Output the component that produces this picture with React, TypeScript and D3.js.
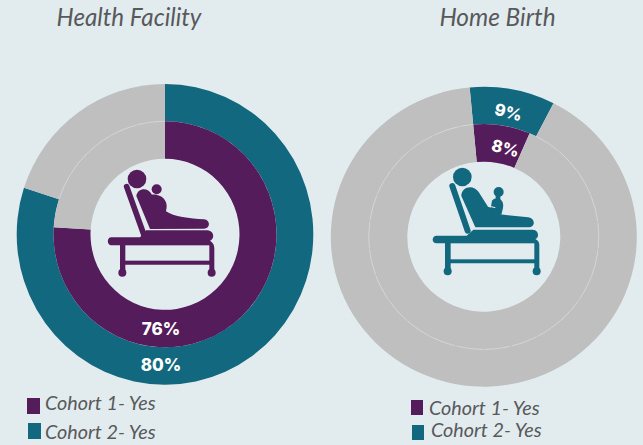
import React from "react";
import * as d3 from "d3";

// values, percent "yes" per cohort
const facilityCohort1 = [76, 24];
const facilityCohort2 = [80, 20];
const homeCohort1 = [8, 92];
const homeCohort2 = [9, 91];
const legendLabels = ["Cohort 1- Yes", "Cohort 2- Yes"];
const titles = ["Health Facility", "Home Birth"];

const BG = "#e2ecef";
const PURPLE = "#551c5b";
const TEAL = "#12687f";
const GREY = "#bfbfbf";
const TEXT = "#58595b";
const LABEL_FONT = "Inter, 'Open Sans', sans-serif";
const TITLE_FONT = "Lato, 'Open Sans', sans-serif";

type RingProps = {
  values: number[];
  color: string;
  inner: number;
  outer: number;
  start: number;
};

function Ring({ values, color, inner, outer, start }: RingProps) {
  const pie = d3
    .pie<number>()
    .sort(null)
    .startAngle(start)
    .endAngle(start + 2 * Math.PI);
  const arc = d3.arc<d3.PieArcDatum<number>>().innerRadius(inner).outerRadius(outer);
  const slices = pie(values);
  return (
    <g>
      {slices.map((s, i) => (
        <path key={i} d={arc(s) || ""} fill={i === 0 ? color : GREY} />
      ))}
    </g>
  );
}

function Seam({ r, from, to }: { r: number; from: number; to: number }) {
  const d = d3.arc()({ innerRadius: r, outerRadius: r, startAngle: from, endAngle: to }) || "";
  return <path d={d} fill="none" stroke="#d3d8d9" strokeWidth={0.45} strokeDasharray="26 2" />;
}

// icons are traced in zoomed reference coordinates, hence the 1/3 scale where they are used
function MotherFacility({ fill }: { fill: string }) {
  return (
    <g fill={fill}>
      <circle cx={141} cy={87} r={28} />
      <circle cx={200} cy={118} r={15} />
      <path d="M110 110 L163 258" stroke={fill} strokeWidth={17} strokeLinecap="round" fill="none" />
      <path d="M139 138 C142 115 172 108 186 134 C214 132 238 152 228 184 C250 200 300 206 342 208 C362 210 362 236 342 236 L180 237 Z" />
      <path d="M168 241 L352 241 C374 243 374 268 360 272 C372 280 373 288 373 296 L373 368 L358 368 L358 344 L106 344 L106 368 L90 368 L90 286 L64 286 C50 286 50 262 64 262 L150 262 Z" />
      <rect x={106} y={286} width={252} height={46} fill={BG} />
      <circle cx={97} cy={368} r={12} />
      <circle cx={365} cy={368} r={12} />
    </g>
  );
}

function MotherHome({ fill }: { fill: string }) {
  return (
    <g fill={fill}>
      <circle cx={157} cy={291} r={28} />
      <circle cx={266} cy={336} r={15} />
      <rect x={257} y={345} width={14} height={16} />
      <path d="M246 362 C262 346 284 360 279 384 L274 404 L240 396 Z" />
      <path d="M127 318 L173 452" stroke={fill} strokeWidth={18} strokeLinecap="round" fill="none" />
      <path d="M154 348 C154 320 190 312 206 336 L234 380 L258 388 L270 403 L355 412 C378 416 376 442 355 442 L196 442 Z" />
      <path d="M234 378 L256 383" stroke={BG} strokeWidth={3} fill="none" />
      <path d="M190 449 L368 449 C388 450 388 474 376 477 C386 482 388 488 388 496 L388 574 L373 574 L373 550 L122 550 L122 574 L105 574 L105 490 L80 490 C64 490 64 467 80 467 L170 467 Z" />
      <rect x={122} y={490} width={251} height={48} fill={BG} />
      <circle cx={113} cy={574} r={12} />
      <circle cx={380} cy={574} r={12} />
    </g>
  );
}

function Swatch({ x, y, w, h, fill, label, tx, ty }: any) {
  return (
    <g>
      <rect x={x} y={y} width={w} height={h} fill={fill} />
      <text x={tx} y={ty} fontFamily={TITLE_FONT} fontStyle="italic" fontSize={19.8} fill={TEXT}>
        {label}
      </text>
    </g>
  );
}

export default function App() {
  const homeStart = (-5.3 * Math.PI) / 180;
  const homeEnd = homeStart + (homeCohort2[0] / 100) * 2 * Math.PI;
  const facilityEnd = (facilityCohort2[0] / 100) * 2 * Math.PI;

  return (
    <svg
      width={643}
      height={445}
      style={{ position: "fixed", left: 0, top: 0, background: BG, display: "block" }}
    >
      <text x={129} y={26} textAnchor="middle" fontFamily={TITLE_FONT} fontStyle="italic" fontSize={24.2} fill={TEXT}>
        {titles[0]}
      </text>
      <text x={497.5} y={26} textAnchor="middle" fontFamily={TITLE_FONT} fontStyle="italic" fontSize={24.4} fill={TEXT}>
        {titles[1]}
      </text>

      <g transform="translate(165,234.3) scale(1,1.014)">
        <Ring values={facilityCohort2} color={TEAL} inner={111.5} outer={148.3} start={0} />
        <Ring values={facilityCohort1} color={PURPLE} inner={74.5} outer={111.5} start={0} />
        <Seam r={111.5} from={facilityEnd} to={2 * Math.PI} />
      </g>
      <g transform="translate(483.8,236.7) scale(1,0.98)">
        <Ring values={homeCohort2} color={TEAL} inner={115} outer={153} start={homeStart} />
        <Ring values={homeCohort1} color={PURPLE} inner={76.5} outer={115} start={homeStart} />
        <Seam r={115} from={homeEnd} to={homeStart + 2 * Math.PI} />
      </g>

      <g transform="translate(90,150) scale(0.3333)">
        <MotherFacility fill={PURPLE} />
      </g>
      <g transform="translate(410,80) scale(0.3333)">
        <MotherHome fill={TEAL} />
      </g>

      <g fontFamily={LABEL_FONT} fontWeight={800} fontSize={17} fill="#ffffff" textAnchor="middle">
        <text x={161} y={335}>{facilityCohort1[0]}%</text>
        <text x={161} y={371}>{facilityCohort2[0]}%</text>
        <text transform="translate(507,118) rotate(14)" fontSize={16.5}>{homeCohort2[0]}%</text>
        <text transform="translate(504,154) rotate(14)" fontSize={16.5}>{homeCohort1[0]}%</text>
      </g>

      <Swatch x={27} y={398} w={13} h={16} fill={PURPLE} label={legendLabels[0]} tx={45} ty={410} />
      <Swatch x={28} y={423} w={13} h={16} fill={TEAL} label={legendLabels[1]} tx={45} ty={438.5} />
      <Swatch x={411} y={400} w={12} h={15} fill={PURPLE} label={legendLabels[0]} tx={429} ty={415} />
      <Swatch x={412} y={425} w={12} h={15} fill={TEAL} label={legendLabels[1]} tx={431} ty={437} />
    </svg>
  );
}
